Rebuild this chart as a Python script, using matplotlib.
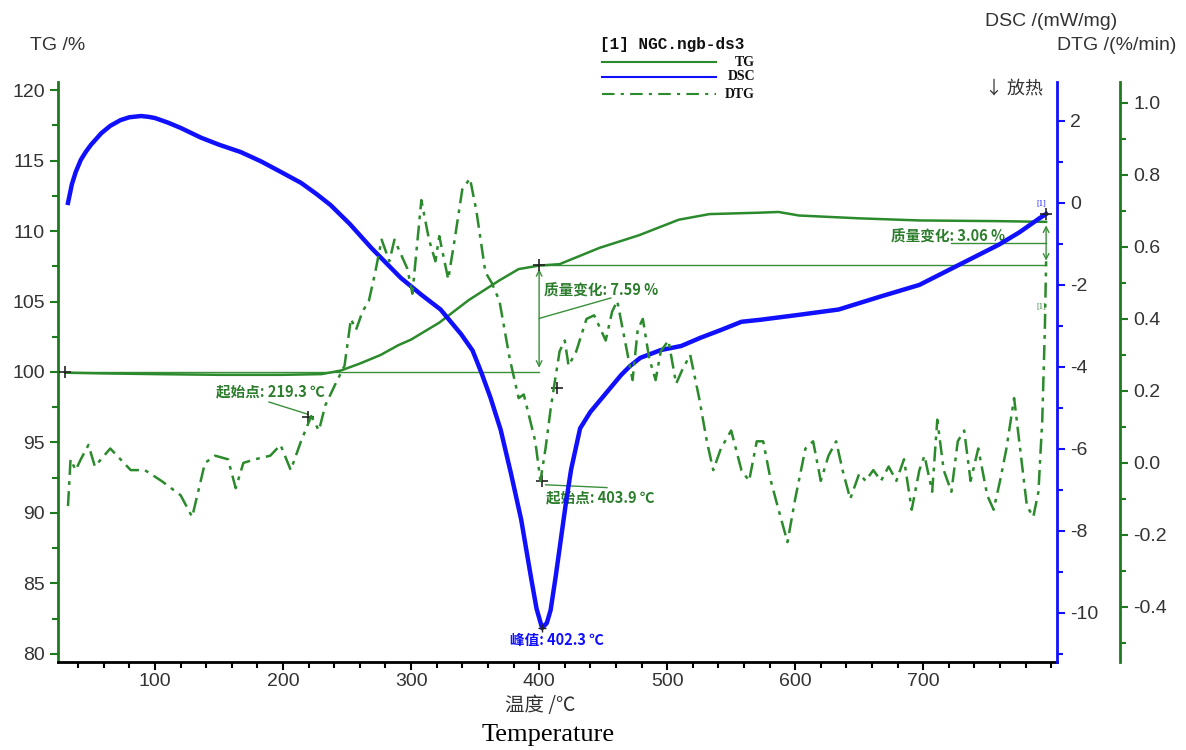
import matplotlib
matplotlib.use("Agg")
import matplotlib.pyplot as plt
from matplotlib.ticker import MultipleLocator
import numpy as np

# ---------------- data ----------------
tg_T = [30, 60, 100, 150, 200, 230, 245, 260, 276, 290, 300, 322, 345, 369, 384, 400,
        416, 447, 478, 509, 533, 572, 587, 603, 650, 697, 759, 796]
tg_val = [99.95, 99.9, 99.85, 99.8, 99.8, 99.85, 100.1, 100.6, 101.2, 101.9, 102.3, 103.5,
          105.1, 106.5, 107.3, 107.55, 107.65, 108.8, 109.7, 110.8, 111.2, 111.3, 111.35,
          111.1, 110.9, 110.75, 110.7, 110.65]

dsc_T = [32, 35, 38, 42, 46, 50, 58, 65, 73, 80, 89, 95, 100, 110, 120, 136, 150, 167, 183,
         198, 214, 226, 237, 252, 269, 280, 292, 308, 323, 339, 348, 355, 362, 370, 378, 386,
         394, 398, 402.3, 406, 409, 413, 417, 421, 425, 432, 440, 448, 456, 464, 471, 479,
         495, 511, 526, 542, 558, 573, 603, 634, 666, 697, 728, 759, 775, 791, 796]
dsc_val = [0.0, 0.45, 0.75, 1.05, 1.25, 1.42, 1.7, 1.88, 2.02, 2.09, 2.12, 2.1, 2.07, 1.96,
           1.83, 1.59, 1.42, 1.24, 1.01, 0.76, 0.49, 0.22, -0.05, -0.51, -1.1, -1.45, -1.83,
           -2.24, -2.6, -3.2, -3.6, -4.15, -4.75, -5.54, -6.6, -7.73, -9.2, -9.9, -10.37,
           -10.25, -9.93, -9.1, -8.2, -7.3, -6.5, -5.5, -5.1, -4.8, -4.5, -4.2, -3.98, -3.78,
           -3.59, -3.49, -3.29, -3.1, -2.9, -2.85, -2.73, -2.6, -2.29, -2.0, -1.51, -1.02,
           -0.72, -0.37, -0.27]

dtg_T = [32, 34, 38, 42, 48, 53, 65, 73, 81, 92, 105, 120, 129, 139, 147, 157, 163, 169,
         178, 190, 198, 206, 214, 222, 228, 233, 241, 248, 253, 257, 262, 267, 272, 277,
         283, 287, 297, 301, 308, 314, 319, 322, 329, 334, 340, 346, 351, 358, 363, 369,
         377, 384, 388, 397, 401, 405, 409, 412, 416, 420, 423, 429, 437, 443, 452, 457,
         461, 467, 473, 477, 481, 486, 491, 495, 501, 507, 512, 518, 525, 531, 536, 542,
         550, 558, 564, 570, 575, 581, 587, 594, 600, 608, 614, 620, 626, 632, 637, 643,
         650, 655, 661, 667, 673, 679, 685, 691, 697, 701, 707, 711, 716, 722, 727, 732,
         737, 743, 750, 755, 760, 765, 771, 774, 781, 786, 790, 793, 795, 796]
dtg_val = [-0.12, 0.01, -0.02, 0.01, 0.05, -0.01, 0.04, 0.01, -0.02, -0.02, -0.05, -0.09,
           -0.15, 0.0, 0.02, 0.01, -0.07, 0.0, 0.01, 0.02, 0.05, -0.02, 0.06, 0.13, 0.09,
           0.16, 0.22, 0.27, 0.40, 0.37, 0.42, 0.45, 0.53, 0.62, 0.56, 0.62, 0.54, 0.47,
           0.73, 0.62, 0.56, 0.63, 0.51, 0.62, 0.76, 0.79, 0.70, 0.53, 0.50, 0.45, 0.29,
           0.18, 0.19, 0.06, -0.05, 0.04, 0.15, 0.22, 0.31, 0.34, 0.27, 0.31, 0.40, 0.41,
           0.34, 0.42, 0.45, 0.34, 0.23, 0.37, 0.40, 0.29, 0.23, 0.31, 0.34, 0.22, 0.26,
           0.30, 0.18, 0.06, -0.02, 0.04, 0.09, -0.02, -0.05, 0.06, 0.06, -0.05, -0.13,
           -0.22, -0.10, 0.04, 0.06, -0.05, 0.02, 0.06, -0.02, -0.10, -0.03, -0.05, -0.02,
           -0.05, -0.01, -0.05, 0.01, -0.13, -0.02, 0.02, -0.08, 0.12, -0.02, -0.08, 0.06,
           0.09, -0.05, 0.04, -0.09, -0.13, -0.05, 0.04, 0.18, 0.09, -0.12, -0.15, -0.08,
           0.12, 0.37, 0.56]

x_major = [100, 200, 300, 400, 500, 600, 700]
tg_ticks = [80, 85, 90, 95, 100, 105, 110, 115, 120]
dsc_ticks = [-10, -8, -6, -4, -2, 0, 2]
dtg_ticks = [-0.4, -0.2, 0.0, 0.2, 0.4, 0.6, 0.8, 1.0]

# ---------------- style ----------------
GREEN = "#2b8a2b"
AXGREEN = "#1f7a1f"
BLUE = "#1010ff"
TXTGREEN = "#2c7d2c"
TICKTXT = "#333333"
CJK = ["Noto Sans CJK SC", "DejaVu Sans"]

W, H = 1186, 750
fig = plt.figure(figsize=(W / 100, H / 100), dpi=100)
L, R, B, T = 58, 1057, 662, 82
ax = fig.add_axes([L / W, 1 - B / H, (R - L) / W, (B - T) / H])
ax2 = ax.twinx()
ax3 = ax.twinx()

def fx(px):
    return px / W

def fy(py):
    return 1 - py / H

# TG axis
ax.set_xlim(24.2, 804.5)
ax.set_ylim(79.43, 120.57)
ax.set_yticks(tg_ticks)
ax.yaxis.set_minor_locator(MultipleLocator(2.5))
ax.set_xticks(x_major)
ax.xaxis.set_minor_locator(MultipleLocator(20))
for s in ["top", "right"]:
    ax.spines[s].set_visible(False)
ax.spines["left"].set_color(AXGREEN)
ax.spines["left"].set_linewidth(2)
ax.spines["bottom"].set_color("black")
ax.spines["bottom"].set_linewidth(2)
ax.tick_params(axis="y", which="both", colors=AXGREEN, labelcolor=TICKTXT, labelsize=14, width=1.5)
ax.tick_params(axis="y", which="major", length=6)
ax.tick_params(axis="y", which="minor", length=4)
ax.tick_params(axis="x", which="both", colors="black", labelcolor=TICKTXT, labelsize=14, width=1.5,
               pad=2)
ax.tick_params(axis="x", which="major", length=6)
ax.tick_params(axis="x", which="minor", length=4)
for lab in ax.get_xticklabels() + ax.get_yticklabels():
    lab.set_family("Liberation Sans")

# DSC axis
ax2.set_ylim(-11.2, 2.95)
ax2.set_yticks(dsc_ticks)
ax2.yaxis.set_minor_locator(MultipleLocator(1))
for s in ["top", "left", "bottom"]:
    ax2.spines[s].set_visible(False)
ax2.spines["right"].set_color(BLUE)
ax2.spines["right"].set_linewidth(2)
ax2.tick_params(axis="y", which="both", colors=BLUE, labelcolor=TICKTXT, labelsize=14, width=1.5)
ax2.tick_params(axis="y", which="major", length=6)
ax2.tick_params(axis="y", which="minor", length=4)
ax2.set_yticklabels([str(v) for v in dsc_ticks], family="Liberation Sans")

# DTG axis
ax3.set_ylim(-0.553, 1.058)
ax3.set_yticks(dtg_ticks)
ax3.yaxis.set_minor_locator(MultipleLocator(0.1))
for s in ["top", "left", "bottom"]:
    ax3.spines[s].set_visible(False)
ax3.spines["right"].set_position(("axes", 1 + 63 / (R - L)))
ax3.spines["right"].set_color(AXGREEN)
ax3.spines["right"].set_linewidth(2)
ax3.tick_params(axis="y", which="both", colors=AXGREEN, labelcolor=TICKTXT, labelsize=14, width=1.5)
ax3.tick_params(axis="y", which="major", length=6)
ax3.tick_params(axis="y", which="minor", length=4)
ax3.set_yticklabels([f"{v:.1f}" for v in dtg_ticks], family="Liberation Sans")

# curves
ax.plot(tg_T, tg_val, color=GREEN, lw=1.8, zorder=3)
ax3.plot(dtg_T, dtg_val, color=GREEN, lw=1.8, linestyle=(0, (6, 2.5, 1.5, 2.5)), zorder=3)
ax2.plot(dsc_T, dsc_val, color=BLUE, lw=3.2, zorder=4, solid_joinstyle="round")
ax2.plot(dsc_T[-1], dsc_val[-1], marker="+", color="#222222", ms=8, mew=1.2, zorder=5)
ax2.plot(402.3, -10.37, marker="+", color="#222222", ms=6, mew=1.0, zorder=5)

# annotations on TG axis (data coords)
ann_c = "#3a8f3a"
ax.plot([30, 400], [100, 100], color=ann_c, lw=1.0)
ax.plot([400, 796], [107.59, 107.59], color=ann_c, lw=1.0)
ax.annotate("", xy=(400, 100.1), xytext=(400, 107.5),
            arrowprops=dict(arrowstyle="<->", color=ann_c, lw=1.0))
ax.annotate("", xy=(796, 107.7), xytext=(796, 110.6),
            arrowprops=dict(arrowstyle="<->", color=ann_c, lw=1.0))
ax.plot([400, 456], [103.8, 105.25], color=ann_c, lw=1.0)
ax.plot([722, 796], [109.15, 109.15], color=ann_c, lw=1.0)
for (mx, my) in [(30, 100), (400, 107.6), (219.3, 96.8), (402.5, 92.27), (414, 98.9)]:
    ax.plot(mx, my, marker="+", color="#222222", ms=9, mew=1.2, zorder=5)
ax.plot([189, 219.5], [97.87, 97.0], color=ann_c, lw=1.0)
ax.plot([405, 453], [92.0, 91.8], color=ann_c, lw=1.0)

ax.text(404, 105.8, "质量变化: 7.59 %", color=TXTGREEN, fontsize=10.5, fontweight="bold",
        family=CJK, ha="left", va="center")
ax.text(675, 109.6, "质量变化: 3.06 %", color=TXTGREEN, fontsize=10.5, fontweight="bold",
        family=CJK, ha="left", va="center")
ax.text(190, 98.65, "起始点: 219.3 ℃", color=TXTGREEN, fontsize=10.5, fontweight="bold",
        family=CJK, ha="center", va="center")
ax.text(405.5, 91.1, "起始点: 403.9 ℃", color=TXTGREEN, fontsize=10.5, fontweight="bold",
        family=CJK, ha="left", va="center")
ax.text(414, 81.0, "峰值: 402.3 ℃", color=BLUE, fontsize=10.5, fontweight="bold",
        family=CJK, ha="center", va="center")
ax.text(788, 111.9, "[1]", color=BLUE, fontsize=6, ha="left", va="center", family="Liberation Serif")
ax.text(788, 104.6, "[1]", color=TXTGREEN, fontsize=6, ha="left", va="center", family="Liberation Serif")

# axis titles
fig.text(fx(30), fy(45), "TG /%", fontsize=14, color=TICKTXT, family="Liberation Sans",
         ha="left", va="center")
fig.text(fx(985), fy(22), "DSC /(mW/mg)", fontsize=14, color=TICKTXT, family="Liberation Sans",
         ha="left", va="center")
fig.text(fx(1057), fy(46), "DTG /(%/min)", fontsize=14, color=TICKTXT, family="Liberation Sans",
         ha="left", va="center")
fig.text(fx(985), fy(88), "↓ 放热", fontsize=13, color=TICKTXT, family=CJK,
         ha="left", va="center")
fig.text(fx(540), fy(705), "温度 /℃", fontsize=14, color=TICKTXT, family=CJK,
         ha="center", va="center")
fig.text(fx(548), fy(735), "Temperature", fontsize=19, color="black", family="Liberation Serif",
         ha="center", va="center")

# legend (manual)
fig.text(fx(600), fy(44), "[1] NGC.ngb-ds3", fontsize=11.5, fontweight="bold",
         family="Liberation Mono", color="#111111", ha="left", va="center")
leg_items = [("TG", GREEN, "-", 62), ("DSC", BLUE, "-", 77), ("DTG", GREEN, (0, (6, 3, 1.5, 3)), 94)]
for name, col, ls, py in leg_items:
    fig.add_artist(plt.Line2D([fx(602), fx(716)], [fy(py), fy(py)], color=col, lw=1.5,
                              linestyle=ls, transform=fig.transFigure))
    fig.text(fx(755), fy(py), name, fontsize=10, fontweight="bold", family="Liberation Serif",
             color="#111111", ha="right", va="center")

fig.savefig("out.png", dpi=100)
